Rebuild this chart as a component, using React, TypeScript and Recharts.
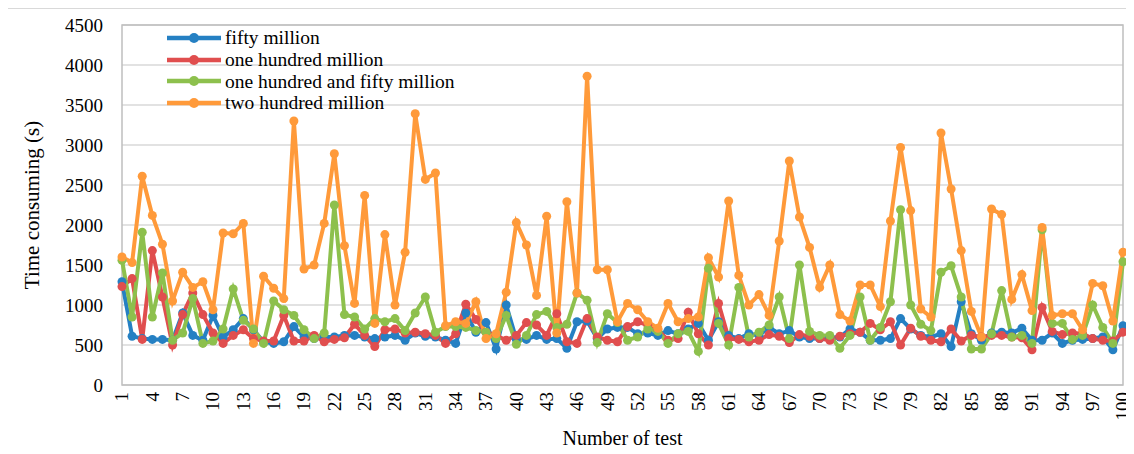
import { LineChart, Line, XAxis, YAxis, CartesianGrid, Legend, ReferenceArea } from 'recharts';

const FONT = '"Liberation Serif", "Times New Roman", serif';

// test number 1..100
const tests = Array.from({ length: 100 }, (_, i) => i + 1);

const fiftyMillion = [
  1290, 610, 580, 570, 570, 560, 900, 620, 560, 870,
  600, 690, 830, 690, 540, 520, 540, 730, 600, 580,
  600, 600, 620, 620, 600, 580, 600, 620, 560, 650,
  610, 600, 560, 520, 900, 660, 780, 450, 1000, 570,
  570, 620, 570, 580, 460, 790, 800, 580, 700, 720,
  720, 640, 650, 620, 680, 640, 700, 770, 560, 790,
  620, 580, 640, 620, 720, 640, 680, 600, 580, 580,
  590, 600, 700, 660, 560, 560, 580, 830, 700, 620,
  600, 640, 480, 1040, 640, 560, 650, 660, 650, 710,
  560, 560, 650, 520, 560, 570, 580, 600, 440, 740,
];

const oneHundredMillion = [
  1230, 1330, 570, 1680, 1100, 500, 880, 1150, 880, 650,
  520, 620, 690, 580, 550, 550, 870, 550, 550, 620,
  540, 570, 590, 760, 620, 480, 690, 700, 650, 660,
  640, 620, 520, 640, 1010, 820, 660, 620, 560, 620,
  780, 750, 620, 890, 540, 520, 830, 600, 560, 540,
  730, 790, 750, 690, 560, 580, 910, 640, 500, 1020,
  580, 570, 540, 560, 630, 610, 530, 630, 610, 580,
  560, 610, 640, 660, 770, 690, 790, 500, 710, 610,
  560, 540, 700, 550, 620, 600, 620, 620, 600, 590,
  440, 970, 670, 630, 650, 640, 580, 560, 550, 660,
];

const oneHundredFiftyMillion = [
  1560, 850, 1910, 850, 1400, 560, 650, 1080, 520, 550,
  700, 1200, 810, 700, 520, 1050, 940, 870, 690, 580,
  650, 2250, 880, 850, 700, 830, 790, 830, 680, 900,
  1100, 660, 730, 730, 720, 680, 660, 580, 870, 510,
  620, 880, 920, 720, 760, 1150, 1060, 530, 890, 780,
  560, 600, 700, 670, 520, 640, 670, 420, 1460, 770,
  500, 1220, 600, 660, 750, 1100, 580, 1500, 670, 620,
  620, 460, 620, 1100, 560, 720, 1040, 2190, 1000, 760,
  680, 1410, 1490, 1100, 450, 450, 640, 1180, 600, 620,
  520, 1940, 770, 770, 570, 620, 1000, 720, 520, 1540,
];

const twoHundredMillion = [
  1600, 1530, 2610, 2120, 1760, 1050, 1410, 1220, 1290, 940,
  1900, 1890, 2020, 520, 1360, 1210, 1080, 3300, 1450, 1500,
  2020, 2890, 1740, 1020, 2370, 770, 1880, 1000, 1660, 3390,
  2570, 2650, 740, 790, 770, 1040, 580, 640, 1160, 2030,
  1750, 1120, 2110, 650, 2290, 1150, 3860, 1440, 1440, 790,
  1020, 940, 790, 710, 1020, 790, 830, 850, 1590, 1350,
  2300, 1370, 1000, 1130, 870, 1800, 2800, 2100, 1720, 1220,
  1500, 880, 800, 1250, 1250, 980, 2050, 2970, 2180, 950,
  850, 3150, 2450, 1680, 920, 600, 2200, 2130, 1070, 1380,
  930, 1970, 870, 890, 890, 690, 1270, 1240, 800, 1660,
];

const yTicks = [0, 500, 1000, 1500, 2000, 2500, 3000, 3500, 4000, 4500];

const series = [
  { key: 'fifty', name: 'fifty million', color: '#2580c3', values: fiftyMillion },
  { key: 'hundred', name: 'one hundred million', color: '#e04e4e', values: oneHundredMillion },
  { key: 'hundredFifty', name: 'one hundred and fifty million', color: '#8dc04d', values: oneHundredFiftyMillion },
  { key: 'twoHundred', name: 'two hundred million', color: '#ff9a3a', values: twoHundredMillion },
];

const data = tests.map((t, i) => {
  const row: any = { test: t };
  series.forEach((s) => {
    row[s.key] = s.values[i];
  });
  return row;
});

const XTick = ({ x, y, payload }: any) => (
  <text
    x={x}
    y={y}
    transform={`rotate(-90 ${x} ${y})`}
    textAnchor="end"
    dy="0.34em"
    fill="#000"
    fontSize={19}
    fontFamily={FONT}
  >
    {payload.value}
  </text>
);

const YTick = ({ x, y, payload }: any) => (
  <text x={x} y={y} textAnchor="end" dy="0.35em" fill="#000" fontSize={19} fontFamily={FONT}>
    {payload.value}
  </text>
);

const YTitle = ({ viewBox }: any) => {
  const cx = (viewBox?.x ?? 0) + 24;
  const cy = (viewBox?.y ?? 17) + (viewBox?.height ?? 360) / 2;
  return (
    <text
      x={cx}
      y={cy}
      transform={`rotate(-90 ${cx} ${cy})`}
      textAnchor="middle"
      dy="0.35em"
      fill="#000"
      fontSize={21}
      fontFamily={FONT}
    >
      Time consuming (s)
    </text>
  );
};

const LegendBox = () => (
  <div style={{ fontFamily: FONT, fontSize: 19.5, color: '#000' }}>
    {series.map((s) => (
      <div key={s.key} style={{ display: 'flex', alignItems: 'center', height: 21.8, whiteSpace: 'nowrap' }}>
        <svg width={58} height={12} style={{ display: 'block' }}>
          <line x1={0} y1={6} x2={54} y2={6} stroke={s.color} strokeWidth={4.5} />
          <circle cx={27} cy={6} r={5} fill={s.color} />
        </svg>
        <span>{s.name}</span>
      </div>
    ))}
  </div>
);

export default function App() {
  return (
    <div style={{ position: 'relative', width: 1118, height: 444 }}>
      <div
        style={{
          position: 'absolute',
          left: -1,
          top: 0,
          width: 1118,
          height: 444,
          border: '1px solid #d9d9d9',
        }}
      />
      <LineChart
        width={1126}
        height={444}
        data={data}
        margin={{ top: 17, right: 11, left: 0, bottom: 0 }}
      >
        <CartesianGrid vertical={false} stroke="#d9d9d9" strokeWidth={1.5} />
        <ReferenceArea y1={0} y2={4500} fill="none" stroke="#bfbfbf" strokeWidth={1.5} />
        <XAxis
          dataKey="test"
          type="category"
          interval={2}
          height={67}
          tickLine={false}
          axisLine={false}
          tickSize={0}
          tickMargin={7}
          tick={<XTick />}
          label={{
            value: 'Number of test',
            position: 'insideBottom',
            offset: 7,
            fill: '#000',
            fontSize: 20,
            fontFamily: FONT,
          }}
        />
        <YAxis
          type="number"
          domain={[0, 4500]}
          ticks={yTicks}
          width={114}
          tickLine={false}
          axisLine={false}
          tickSize={0}
          tickMargin={19}
          tick={<YTick />}
          label={<YTitle />}
        />
        <Legend
          layout="horizontal"
          verticalAlign="middle"
          align="center"
          content={<LegendBox />}
          wrapperStyle={{ left: 159, top: 19, width: 'auto', height: 'auto' }}
        />
        {series.map((s) => (
          <Line
            key={s.key}
            type="linear"
            dataKey={s.key}
            name={s.name}
            stroke={s.color}
            strokeWidth={4}
            dot={{ r: 4.5, fill: s.color, stroke: s.color, strokeWidth: 0 }}
            activeDot={false}
            isAnimationActive={false}
          />
        ))}
      </LineChart>
    </div>
  );
}
